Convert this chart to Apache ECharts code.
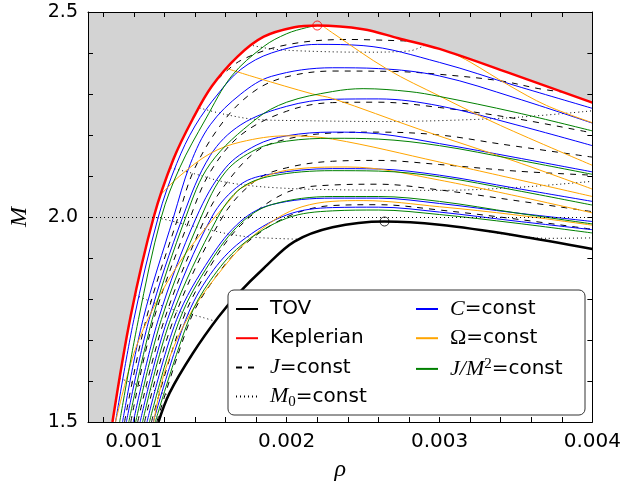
<!DOCTYPE html>
<html>
<head>
<meta charset="utf-8">
<script src="https://cdn.jsdelivr.net/npm/echarts@6/dist/echarts.min.js"></script>
<style>html,body{margin:0;padding:0;background:#fff;}#c{width:624px;height:487px;}</style>
</head>
<body>
<div id="c"></div>
<script>
// ---- tick values ----
const xTicks = [0.0008,0.001,0.0012,0.0014,0.0016,0.0018,0.002,0.0022,0.0024,0.0026,0.0028,0.003,0.0032,0.0034,0.0036,0.0038,0.004];
const xLabels = [0.001,0.002,0.003,0.004];
const yTicks = [1.5,1.6,1.7,1.8,1.9,2.0,2.1,2.2,2.3,2.4,2.5];
const yLabels = [1.5,2.0,2.5];
const gridX = [0.001,0.002,0.003];
const gridY = [2.0];

// ---- data: [rho, M] ----
const TOV = [[0.001161,1.5],[0.001234,1.571],[0.001385,1.667],[0.001553,1.756],[0.00168,1.812],[0.00185,1.875],[0.00205,1.94],[0.0023,1.975],[0.00264,1.989],[0.003,1.981],[0.0035,1.955],[0.004,1.922]];
const KEPLER = [[0.00086,1.5],[0.00098,1.76],[0.00113,2.0],[0.00126,2.142],[0.001385,2.239],[0.00151,2.319],[0.00168,2.392],[0.00185,2.44],[0.00205,2.463],[0.0022,2.467],[0.0025,2.458],[0.00273,2.436],[0.003,2.41],[0.00345,2.352],[0.004,2.279]];
const TOV_MAX = [[0.00264,1.989]];
const KEP_MAX = [[0.0022,2.467]];

// J = const
const J1 = [[0.00155,2.336],[0.0017,2.382],[0.002,2.42],[0.0024,2.433],[0.0028,2.429]];
const J2 = [[0.000939,1.5],[0.00108,1.75],[0.00129,2.0],[0.0014,2.12],[0.0016,2.24],[0.0018,2.31],[0.002,2.342],[0.0023,2.356],[0.0027,2.355],[0.003,2.348],[0.0034,2.332],[0.00365,2.313],[0.0038,2.305]];
const J3 = [[0.00098,1.5],[0.00113,1.75],[0.00137,2.0],[0.0015,2.11],[0.0017,2.2],[0.002,2.258],[0.0023,2.279],[0.0026,2.28],[0.003,2.267],[0.0035,2.24],[0.004,2.205]];
const J4 = [[0.001025,1.5],[0.0012,1.75],[0.00147,2.0],[0.0016,2.08],[0.0018,2.16],[0.002,2.19],[0.0023,2.205],[0.0026,2.207],[0.003,2.2],[0.0034,2.178],[0.004,2.146]];
const J5 = [[0.00107,1.5],[0.00126,1.75],[0.00158,2.0],[0.0018,2.09],[0.002,2.12],[0.0023,2.136],[0.0026,2.138],[0.003,2.128],[0.0035,2.112],[0.004,2.102]];
const J6 = [[0.001115,1.5],[0.00132,1.75],[0.0015,1.88],[0.0017,1.98],[0.002,2.06],[0.0023,2.078],[0.0026,2.08],[0.003,2.066],[0.0035,2.04],[0.004,2.013]];
const J7 = [[0.00115,1.5],[0.00137,1.75],[0.0015,1.835],[0.0017,1.925],[0.002,2.0],[0.0023,2.028],[0.0026,2.03],[0.003,2.017],[0.0035,1.995],[0.004,1.97]];

// M0 = const
const D1 = [[0.00178,2.418],[0.0019,2.41],[0.0021,2.405],[0.0025,2.402],[0.0028,2.405],[0.0029,2.418]];
const D2 = [[0.00143,2.266],[0.0016,2.25],[0.0018,2.238],[0.0021,2.235],[0.0026,2.233],[0.003,2.235],[0.0035,2.243],[0.004,2.259]];
const D3 = [[0.00124,2.12],[0.0014,2.105],[0.0016,2.085],[0.0019,2.072],[0.0024,2.066],[0.003,2.065],[0.0035,2.072],[0.004,2.087]];
const D4 = [[0.00113,2.0],[0.00125,1.99],[0.0015,1.968],[0.00166,1.956],[0.0018,1.95],[0.00207,1.946]];
const D4b = [[0.0033,1.966],[0.0037,1.948],[0.004,1.949]];
const D5 = [[0.00101,1.81],[0.00107,1.80],[0.00125,1.775],[0.00145,1.755],[0.00153,1.746]];
const D6 = [[0.00091,1.606],[0.001,1.594],[0.00119,1.57],[0.00123,1.566]];

// C = const
const C1 = [[0.00088,1.5],[0.001,1.75],[0.00116,2.0],[0.00128,2.13],[0.0014,2.222],[0.00155,2.3],[0.0017,2.36],[0.0019,2.40],[0.0022,2.421],[0.0025,2.418],[0.003,2.377],[0.0035,2.32],[0.004,2.265]];
const C2 = [[0.000926,1.5],[0.00106,1.75],[0.00126,2.0],[0.00137,2.13],[0.0015,2.225],[0.0017,2.30],[0.0019,2.343],[0.0023,2.364],[0.0026,2.362],[0.003,2.344],[0.0035,2.29],[0.004,2.229]];
const C3 = [[0.000951,1.5],[0.0011,1.75],[0.00132,2.0],[0.0015,2.15],[0.0017,2.225],[0.002,2.27],[0.0023,2.287],[0.0026,2.288],[0.003,2.271],[0.0035,2.225],[0.004,2.174]];
const C4 = [[0.000996,1.5],[0.00116,1.75],[0.00141,2.0],[0.0016,2.12],[0.0018,2.175],[0.002,2.198],[0.0023,2.207],[0.0026,2.203],[0.003,2.179],[0.0035,2.145],[0.004,2.11]];
const C5 = [[0.001041,1.5],[0.00122,1.75],[0.00151,2.0],[0.0017,2.08],[0.0019,2.105],[0.0023,2.118],[0.0026,2.117],[0.003,2.102],[0.0035,2.07],[0.004,2.038]];
const C6 = [[0.001086,1.5],[0.00128,1.75],[0.0015,1.9],[0.0017,1.99],[0.0019,2.03],[0.0023,2.046],[0.0026,2.046],[0.003,2.033],[0.0035,2.01],[0.004,1.989]];
const C7 = [[0.001127,1.5],[0.00134,1.75],[0.0015,1.86],[0.0017,1.94],[0.002,2.005],[0.0023,2.023],[0.0026,2.024],[0.003,2.012],[0.0035,1.99],[0.004,1.969]];

// Omega = const
const O1 = [[0.00224,2.465],[0.0023,2.449],[0.00266,2.36],[0.003,2.295],[0.0034,2.223],[0.004,2.126]];
const O2 = [[0.0031,2.397],[0.0032,2.378],[0.00345,2.322],[0.0037,2.272],[0.004,2.23]];
const O3 = [[0.00161,2.362],[0.0018,2.34],[0.00217,2.30],[0.0023,2.289],[0.00286,2.215],[0.0035,2.135],[0.004,2.068]];
const O4 = [[0.00118,2.056],[0.0013,2.10],[0.0015,2.155],[0.0017,2.183],[0.002,2.198],[0.0023,2.19],[0.003,2.134],[0.004,2.05]];
const O5 = [[0.00088,1.5],[0.001,1.667],[0.00113,1.78],[0.0013,1.89],[0.00147,1.973],[0.00164,2.046],[0.0017,2.07],[0.002,2.114],[0.0024,2.122],[0.003,2.09],[0.004,2.01]];
const O6 = [[0.00113,1.5],[0.0012,1.62],[0.00134,1.745],[0.00155,1.86],[0.0018,1.96],[0.0021,2.025],[0.0025,2.04],[0.003,2.025],[0.0035,2.005],[0.004,1.98]];

// J/M^2 = const
const G1 = [[0.000907,1.5],[0.00103,1.75],[0.00118,2.0],[0.0013,2.12],[0.00147,2.239],[0.00164,2.344],[0.00185,2.416],[0.002,2.447],[0.00213,2.462],[0.0022,2.467]];
const G3 = [[0.000967,1.5],[0.00112,1.75],[0.00134,2.0],[0.0015,2.13],[0.0018,2.239],[0.002,2.28],[0.0023,2.306],[0.0025,2.313],[0.0028,2.306],[0.003,2.294],[0.0035,2.255],[0.004,2.21]];
const G4 = [[0.001012,1.5],[0.00118,1.75],[0.00144,2.0],[0.0016,2.11],[0.0018,2.165],[0.002,2.185],[0.0023,2.192],[0.0026,2.19],[0.003,2.174],[0.0035,2.14],[0.004,2.104]];
const G5 = [[0.001057,1.5],[0.00124,1.75],[0.00155,2.0],[0.0017,2.07],[0.0019,2.1],[0.0023,2.113],[0.0026,2.112],[0.003,2.098],[0.0035,2.065],[0.004,2.029]];
const G6 = [[0.001102,1.5],[0.0013,1.75],[0.0015,1.89],[0.0017,1.985],[0.0019,2.03],[0.0023,2.05],[0.0026,2.05],[0.003,2.038],[0.0035,2.01],[0.004,1.983]];
const G7 = [[0.00114,1.5],[0.00136,1.75],[0.0015,1.845],[0.0017,1.93],[0.002,1.997],[0.0023,2.015],[0.0026,2.017],[0.003,2.006],[0.0035,1.985],[0.004,1.961]];

const FAM = {
  J:  {color:'#000000', width:1, type:[6,6], curves:[J1,J2,J3,J4,J5,J6,J7]},
  M0: {color:'#000000', width:1, type:[1,3], curves:[D1,D2,D3,D4,D4b,D5,D6]},
  C:  {color:'#0000ff', width:1, type:'solid', curves:[C1,C2,C3,C4,C5,C6,C7]},
  Omega: {color:'#ffa500', width:1, type:'solid', curves:[O1,O2,O3,O4,O5,O6]},
  JM2: {color:'#008000', width:1, type:'solid', curves:[G1,G3,G4,G5,G6,G7]}
};

const SMOOTH = 0.35;
function line(name, data, color, width, type, z) {
  return {type:'line', name:name, data:data, showSymbol:false, symbol:'none', smooth:SMOOTH,
    lineStyle:{color:color, width:width, type:type}, itemStyle:{color:color}, z:z, silent:true, animation:false};
}

const series = [];
series.push({type:'line', name:'_fill', data:KEPLER, symbol:'none', smooth:SMOOTH,
  lineStyle:{width:0}, areaStyle:{color:'#ffffff', opacity:1, origin:'start'}, z:1, silent:true, animation:false});
series.push({type:'line', name:'_grid', data:[], symbol:'none', z:2, silent:true, animation:false,
  markLine:{silent:true, symbol:['none','none'], label:{show:false}, animation:false,
    lineStyle:{color:'#000', width:1, type:[1,3]},
    data: gridX.map(v=>({xAxis:v})).concat(gridY.map(v=>({yAxis:v})))}});
for (const k of ['M0','J','C','Omega','JM2']) {
  const f = FAM[k];
  f.curves.forEach(c => series.push(line(k, c, f.color, f.width, f.type, 3)));
}
series.push(line('TOV', TOV, '#000000', 2.5, 'solid', 4));
series.push(line('Keplerian', KEPLER, '#ff0000', 2.5, 'solid', 4));
series.push({type:'scatter', name:'_tm', data:TOV_MAX, symbol:'circle', symbolSize:9, z:5, silent:true,
  itemStyle:{color:'rgba(0,0,0,0)', borderColor:'#000', borderWidth:1}});
series.push({type:'scatter', name:'_km', data:KEP_MAX, symbol:'circle', symbolSize:9, z:5, silent:true,
  itemStyle:{color:'rgba(0,0,0,0)', borderColor:'#ff0000', borderWidth:1}});

const legendNames = {
  TOV:'TOV', Keplerian:'Keplerian', J:'{m|J}=const', M0:'{m|M}{sub|0}=const',
  C:'{m|C}=const', Omega:'{s|Ω}=const', JM2:'{m|J/M}{sup|2}=const'
};
const rich = {
  m:{fontFamily:'Liberation Serif', fontStyle:'italic', fontSize:22, color:'#000'},
  s:{fontFamily:'Liberation Serif', fontSize:22, color:'#000'},
  sub:{fontFamily:'Liberation Serif', fontSize:15, color:'#000', padding:[10,0,0,0]},
  sup:{fontFamily:'Liberation Serif', fontSize:15, color:'#000', padding:[0,0,10,0]}
};
function legend(names, left) {
  return {data:names, orient:'vertical', left:left, top:293, itemWidth:22, itemHeight:14, itemGap:7.2,
    selectedMode:false, z:60, padding:5,
    itemStyle:{opacity:0},
    formatter:n=>legendNames[n],
    textStyle:{fontFamily:'DejaVu Sans', fontSize:20, color:'#000', lineHeight:22, padding:[0,0,0,7], rich:rich}};
}

const tickCommon = {inside:true, length:5, lineStyle:{color:'#000', width:1}};
const option = {
  backgroundColor:'#ffffff',
  animation:false,
  grid:{left:80, right:28, top:12, bottom:61, show:true, backgroundColor:'#d3d3d3', borderWidth:0},
  xAxis:[
    {type:'value', min:0.0007, max:0.004, z:10,
     axisLine:{show:true, lineStyle:{color:'#000', width:1}},
     axisTick:Object.assign({customValues:xTicks}, tickCommon),
     axisLabel:{customValues:xLabels, formatter:v=>v.toFixed(3), fontFamily:'DejaVu Sans', fontSize:20, color:'#000', margin:10},
     splitLine:{show:false},
     name:'ρ', nameLocation:'middle', nameGap:36,
     nameTextStyle:{fontFamily:'Liberation Serif', fontStyle:'italic', fontSize:24, color:'#000'}},
    {type:'value', min:0.0007, max:0.004, position:'top', z:10,
     axisLine:{show:true, lineStyle:{color:'#000', width:1}},
     axisTick:Object.assign({customValues:xTicks}, tickCommon),
     axisLabel:{show:false}, splitLine:{show:false}}
  ],
  yAxis:[
    {type:'value', min:1.5, max:2.5, z:10,
     axisLine:{show:true, lineStyle:{color:'#000', width:1}},
     axisTick:Object.assign({customValues:yTicks}, tickCommon),
     axisLabel:{customValues:yLabels, formatter:v=>v.toFixed(1), fontFamily:'DejaVu Sans', fontSize:19, color:'#000', margin:10},
     splitLine:{show:false},
     name:'M', nameLocation:'middle', nameGap:56, nameRotate:90,
     nameTextStyle:{fontFamily:'Liberation Serif', fontStyle:'italic', fontSize:24, color:'#000'}},
    {type:'value', min:1.5, max:2.5, position:'right', z:10,
     axisLine:{show:true, lineStyle:{color:'#000', width:1}},
     axisTick:Object.assign({customValues:yTicks}, tickCommon),
     axisLabel:{show:false}, splitLine:{show:false}}
  ],
  legend:[legend(['TOV','Keplerian','J','M0'], 230), legend(['C','Omega','JM2'], 410)],
  graphic:[{type:'rect', z:55, shape:{x:228, y:290, width:357, height:125, r:6},
    style:{fill:'#ffffff', stroke:'#333333', lineWidth:1}}],
  series:series
};
const chart = echarts.init(document.getElementById('c'), null, {renderer:'canvas'});
chart.setOption(option);
</script>
</body>
</html>
